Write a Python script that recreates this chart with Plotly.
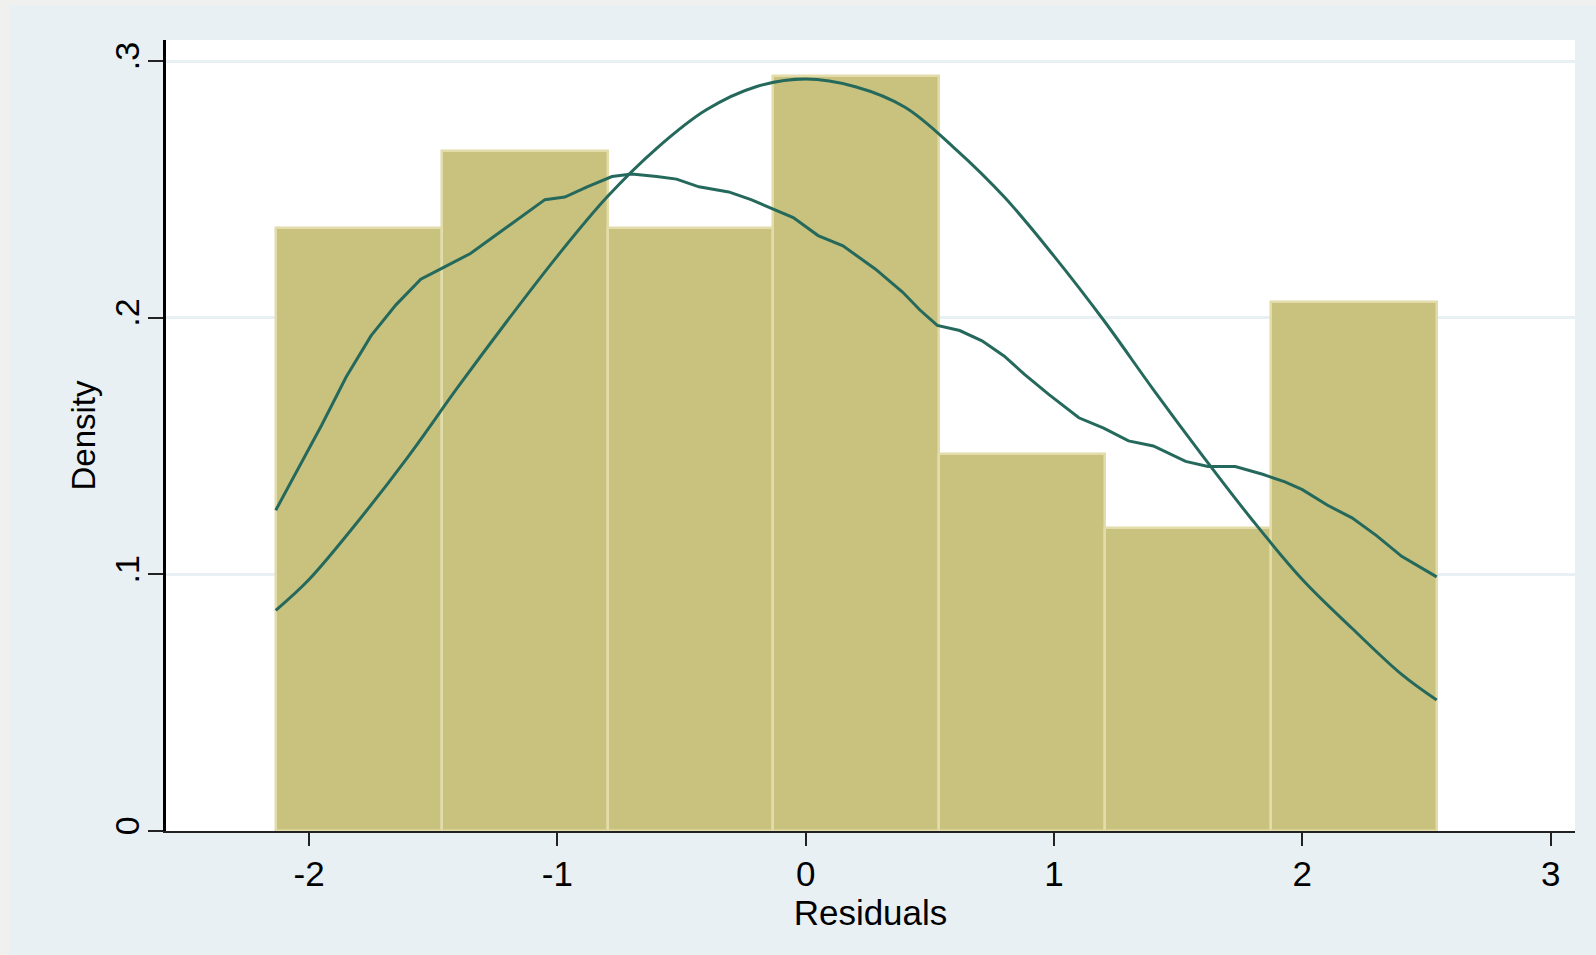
import plotly.graph_objects as go

# Histogram of residuals: bin edges and bar densities
bin_edges = [-2.134, -1.466, -0.798, -0.131, 0.537, 1.205, 1.873, 2.541]
bar_density = [0.235, 0.265, 0.235, 0.294, 0.147, 0.118, 0.206]

# Kernel density estimate of the residuals
kde_x = [-2.134, -2.05, -1.95, -1.85, -1.75, -1.65, -1.55, -1.45, -1.35, -1.25,
         -1.15, -1.05, -0.97, -0.88, -0.78, -0.70, -0.60, -0.52, -0.43, -0.31,
         -0.22, -0.15, -0.05, 0.05, 0.15, 0.28, 0.39, 0.46, 0.53, 0.62,
         0.71, 0.80, 0.88, 0.98, 1.10, 1.20, 1.30, 1.40, 1.53, 1.62,
         1.73, 1.84, 1.93, 2.00, 2.10, 2.20, 2.30, 2.40, 2.541]
kde_y = [0.125, 0.140, 0.158, 0.177, 0.193, 0.205, 0.215, 0.220, 0.225, 0.232,
         0.239, 0.246, 0.247, 0.251, 0.255, 0.256, 0.255, 0.254, 0.251, 0.249,
         0.246, 0.243, 0.239, 0.232, 0.228, 0.219, 0.210, 0.203, 0.197, 0.195,
         0.191, 0.185, 0.178, 0.170, 0.161, 0.157, 0.152, 0.150, 0.144, 0.142,
         0.142, 0.139, 0.136, 0.133, 0.127, 0.122, 0.115, 0.107, 0.099]

# Normal density overlay
norm_x = [-2.134, -2.0, -1.8, -1.6, -1.4, -1.2, -1.0, -0.8, -0.6, -0.4, -0.2, 0.0,
          0.2, 0.4, 0.6, 0.8, 1.0, 1.2, 1.4, 1.6, 1.8, 2.0, 2.2, 2.4, 2.541]
norm_y = [0.086, 0.098, 0.121, 0.146, 0.173, 0.199, 0.224, 0.247, 0.266, 0.281, 0.290, 0.293,
          0.290, 0.282, 0.266, 0.247, 0.224, 0.199, 0.172, 0.146, 0.121, 0.098, 0.079, 0.061, 0.051]

x_ticks = [-2, -1, 0, 1, 2, 3]
x_tick_text = ["-2", "-1", "0", "1", "2", "3"]
y_ticks = [0, 0.1, 0.2, 0.3]
y_tick_text = ["0", ".1", ".2", ".3"]

centers = [(a + b) / 2 for a, b in zip(bin_edges[:-1], bin_edges[1:])]
widths = [b - a for a, b in zip(bin_edges[:-1], bin_edges[1:])]

BAR = "#c9c27f"
BAR_EDGE = "#e2dcaa"
LINE = "#25695c"
REGION = "#e9f0f3"
OUTER = "#f0f0ee"
FONT = "Liberation Sans, Arial, sans-serif"

fig = go.Figure()
fig.add_trace(go.Bar(
    x=centers, y=bar_density, width=widths,
    marker=dict(color=BAR, line=dict(color=BAR_EDGE, width=2.5)),
    hoverinfo="skip", showlegend=False,
))
fig.add_trace(go.Scatter(
    x=kde_x, y=kde_y, mode="lines",
    line=dict(color=LINE, width=3), showlegend=False,
))
fig.add_trace(go.Scatter(
    x=norm_x, y=norm_y, mode="lines", line_shape="spline",
    line=dict(color=LINE, width=3), showlegend=False,
))

# Thin outer frame on the left and top edges of the graph region
L, R, T, B = 166, 21, 40, 124
W, H = 1596, 955
pw, ph = W - L - R, H - T - B
def px_x(p):
    return (p - L) / pw
def px_y(p):
    return (H - B - p) / ph
fig.add_shape(type="rect", xref="paper", yref="paper", layer="below",
              x0=px_x(0), x1=px_x(9), y0=px_y(H), y1=px_y(0),
              fillcolor=OUTER, line_width=0)
fig.add_shape(type="rect", xref="paper", yref="paper", layer="below",
              x0=px_x(0), x1=px_x(W), y0=px_y(5), y1=px_y(0),
              fillcolor=OUTER, line_width=0)

fig.update_layout(
    width=W, height=H,
    margin=dict(l=L, r=R, t=T, b=B, pad=0),
    paper_bgcolor=REGION, plot_bgcolor="white",
    bargap=0,
    font=dict(family=FONT, color="black", size=33),
)
fig.update_xaxes(
    range=[-2.576, 3.098], tickvals=x_ticks, ticktext=x_tick_text,
    ticks="outside", ticklen=13, tickwidth=1.5, tickcolor="#222",
    showline=True, linecolor="#222", linewidth=1.5,
    showgrid=False, zeroline=False,
    tickfont=dict(size=35), ticklabelstandoff=-2,
    title=dict(text="Residuals", font=dict(size=35), standoff=2),
)
fig.update_yaxes(
    range=[0, 0.3082], tickvals=y_ticks, ticktext=y_tick_text,
    ticks="outside", ticklen=15, tickwidth=1.5, tickcolor="#222",
    showline=True, linecolor="black", linewidth=2.5,
    showgrid=True, gridcolor=REGION, gridwidth=3,
    zeroline=False, tickangle=-90,
    tickfont=dict(size=34), ticklabelstandoff=-4,
    title=dict(text="Density", font=dict(size=33), standoff=3),
)

fig.write_html("out.html")
